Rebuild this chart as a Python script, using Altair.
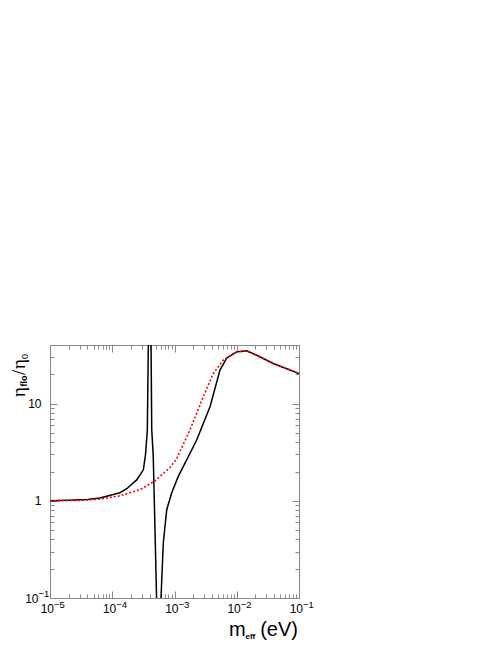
import json
import altair as alt
import pandas as pd

# ---- data ----
black_m = [1e-5, 2e-5, 4e-5, 6.35e-5, 1.33e-4, 1.71e-4, 2.47e-4, 3.16e-4, 3.42e-4, 3.66e-4,
           4.03e-4, 4.31e-4, 4.56e-4, 5.25e-4, 5.87e-4, 6.61e-4, 7.5e-4, 9.0e-4, 1.15e-3,
           1.57e-3, 2.27e-3, 3.72e-3, 5.38e-3, 6.9e-3, 9.98e-3, 1.44e-2, 2.09e-2, 3.86e-2, 1e-1]
black_eta = [1.0, 1.01, 1.03, 1.07, 1.21, 1.33, 1.64, 2.08, 2.96, 5.35,
             1000.0, 5.35, 2.83, 0.06, 0.06, 0.37, 0.81, 1.2, 1.78,
             2.63, 4.22, 9.27, 22.1, 29.3, 34.0, 34.8, 31.4, 25.8, 20.4]

red_m = [1e-5, 3e-5, 6.35e-5, 1.33e-4, 2.79e-4, 4.86e-4, 8.47e-4, 1.08e-3, 1.3e-3, 1.77e-3,
         2.9e-3, 4.2e-3, 6.08e-3, 8.8e-3, 9.98e-3, 1.44e-2, 2.09e-2, 3.86e-2, 1e-1]
red_eta = [1.0, 1.01, 1.04, 1.125, 1.30, 1.6, 2.2, 2.7, 3.5, 5.35,
           11.7, 20.4, 27.9, 32.7, 34.0, 34.8, 31.4, 25.8, 20.4]

x_major = [1e-5, 1e-4, 1e-3, 1e-2, 1e-1]
x_exponents = ["\u22125", "\u22124", "\u22123", "\u22122", "\u22121"]
y_major = [1, 10]
y_major_labels = ["1", "10"]
y_sci = [0.1]
y_sci_exponent = "\u22121"

x_ticks = [k * 10.0 ** e for e in range(-5, -1) for k in range(1, 10)] + [0.1]
y_ticks = [k * 10.0 ** e for e in (-1, 0) for k in range(1, 10)] + [10, 20, 30]

W, H = 249, 253
GRAY = "#888888"
FONT = "Liberation Sans"
SERIF = "Liberation Serif"

df_black = pd.DataFrame({"m": black_m, "eta": black_eta, "i": range(len(black_m))})
df_red = pd.DataFrame({"m": red_m, "eta": red_eta, "i": range(len(red_m))})

xs = alt.Scale(type="log", domain=[1e-5, 1e-1])
ys = alt.Scale(type="log", domain=[0.1, 40])

major_test = "abs(log(datum.value)/LN10 - round(log(datum.value)/LN10)) < 0.001"
tick_dash = {"condition": {"test": major_test, "value": [7, 30]}, "value": [4, 30]}


def tick_axis(orient, offset, values):
    return alt.Axis(orient=orient, offset=offset, values=values, labels=False, domain=False,
                    grid=False, ticks=True, tickSize=7, tickColor=GRAY, tickWidth=1,
                    tickDash=tick_dash, title=None)


def label_axis(orient, values, expr, size, padding, align, baseline, offset=0):
    return alt.Axis(orient=orient, values=values, labelExpr=expr, ticks=False, tickSize=0,
                    domain=False, grid=False, labelPadding=padding, labelFontSize=size,
                    labelFont=FONT, labelColor="black", labelAlign=align,
                    labelBaseline=baseline, labelOffset=offset, labelFlush=False,
                    labelOverlap=False, title=None)


x_base = label_axis("bottom", x_major, "'10'", 12, 5, "right", "top", 3.5)
x_exp = label_axis("bottom", x_major,
                   json.dumps(x_exponents, ensure_ascii=False) + "[round(log(datum.value)/LN10)+5]",
                   9.5, 1, "left", "top", 3.5)
y_base = label_axis("left", y_major,
                    json.dumps(y_major_labels) + "[round(log(datum.value)/LN10)]",
                    12, 9, "right", "middle")
y_sci_base = label_axis("left", y_sci, "'10'", 12, 12, "right", "middle")
y_sci_exp = label_axis("left", y_sci, "'" + y_sci_exponent + "'", 9.5, 12, "left", "middle", -5)


def carrier(df, xaxis, yaxis):
    return alt.Chart(df).mark_line(opacity=0, clip=True).encode(
        x=alt.X("m:Q", scale=xs, axis=xaxis),
        y=alt.Y("eta:Q", scale=ys, axis=yaxis),
        order="i:Q",
    )


g1 = carrier(df_red, tick_axis("top", -H, x_ticks), y_sci_exp)
g2 = carrier(df_red, tick_axis("bottom", -H, x_ticks), tick_axis("right", -W, y_ticks))
g3 = carrier(df_red, None, tick_axis("left", -W, y_ticks))

black = alt.Chart(df_black).mark_line(color="black", strokeWidth=1.5, clip=True).encode(
    x=alt.X("m:Q", scale=xs, axis=x_base),
    y=alt.Y("eta:Q", scale=ys, axis=y_base),
    order="i:Q",
)
red = alt.Chart(df_red).mark_line(color="#ff0000", strokeWidth=1.6, strokeDash=[2, 2], clip=True).encode(
    x=alt.X("m:Q", scale=xs, axis=x_exp),
    y=alt.Y("eta:Q", scale=ys, axis=y_sci_base),
    order="i:Q",
)


def txt(s, x, y, size, angle=0, align="left", weight="normal", font=FONT):
    return alt.Chart(pd.DataFrame({"t": [s]})).mark_text(
        font=font, fontSize=size, angle=angle, align=align, baseline="alphabetic",
        fontWeight=weight, color="black",
    ).encode(text="t:N", x=alt.value(x), y=alt.value(y))


titles = [
    # x title: m_eff (eV)
    txt("m", 179, 291, 20),
    txt("eff", 195.5, 294, 8, weight="bold"),
    txt("(eV)", 248, 291, 20, align="right"),
    # y title: eta_flo / eta_0 (rotated)
    txt("\u03b7", -25.5, 52, 19, angle=270, font=SERIF),
    txt("flo", -23, 41.5, 9, angle=270, weight="bold"),
    txt("/", -25.5, 30, 19, angle=270, font=SERIF),
    txt("\u03b7", -25.5, 24, 19, angle=270, font=SERIF),
    txt("0", -22.5, 14, 9, angle=270),
]

chart = alt.layer(g1, g2, g3, black, red, *titles).resolve_axis(
    x="independent", y="independent"
).properties(
    width=W, height=H, autosize="none",
    padding={"left": 42, "top": 337, "right": 150, "bottom": 45},
).configure_view(stroke=GRAY, strokeWidth=1)

chart.save("out.html", embed_options={"renderer": "svg", "actions": False})
